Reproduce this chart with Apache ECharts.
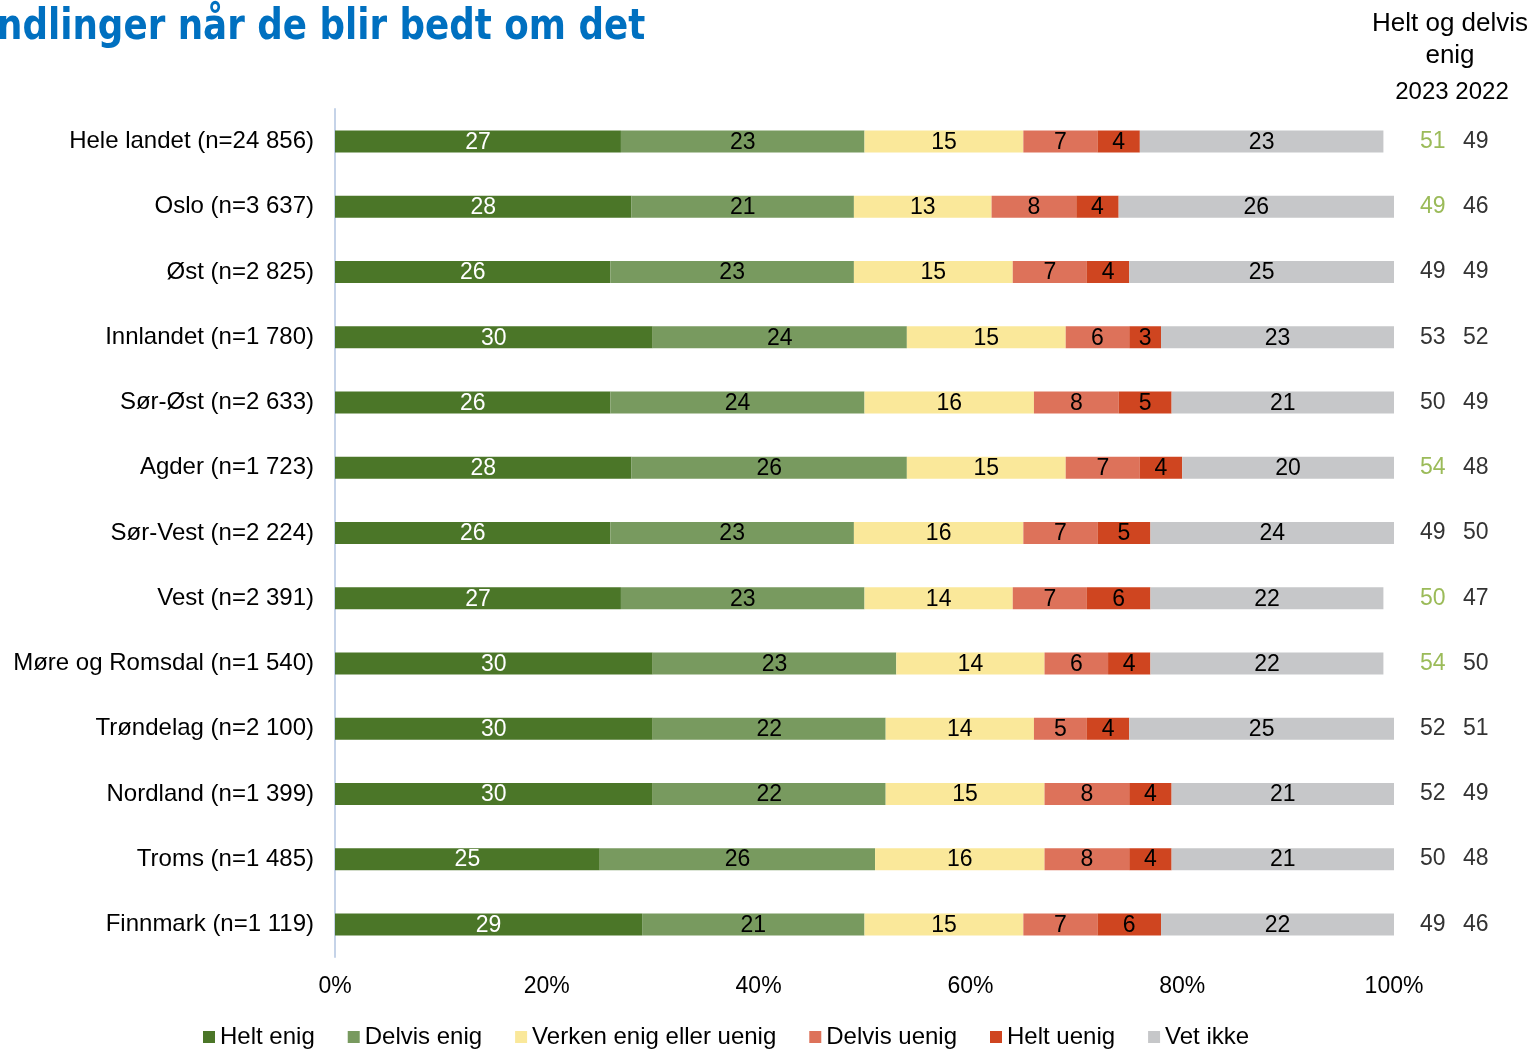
<!DOCTYPE html>
<html>
<head>
<meta charset="utf-8">
<script src="https://cdn.jsdelivr.net/npm/echarts@6/dist/echarts.min.js"></script>
<style>
  html, body { margin: 0; padding: 0; background: #fff; }
  #chart { width: 1535px; height: 1049px; }
</style>
</head>
<body>
<div id="chart"></div>
<script>
// categories, top to bottom
var regions = ['Hele landet (n=24 856)', 'Oslo (n=3 637)', 'Øst (n=2 825)', 'Innlandet (n=1 780)',
  'Sør-Øst (n=2 633)', 'Agder (n=1 723)', 'Sør-Vest (n=2 224)', 'Vest (n=2 391)',
  'Møre og Romsdal (n=1 540)', 'Trøndelag (n=2 100)', 'Nordland (n=1 399)', 'Troms (n=1 485)',
  'Finnmark (n=1 119)'];

var heltEnig    = [27, 28, 26, 30, 26, 28, 26, 27, 30, 30, 30, 25, 29];
var delvisEnig  = [23, 21, 23, 24, 24, 26, 23, 23, 23, 22, 22, 26, 21];
var verken      = [15, 13, 15, 15, 16, 15, 16, 14, 14, 14, 15, 16, 15];
var delvisUenig = [7, 8, 7, 6, 8, 7, 7, 7, 6, 5, 8, 8, 7];
var heltUenig   = [4, 4, 4, 3, 5, 4, 5, 6, 4, 4, 4, 4, 6];
var vetIkke     = [23, 26, 25, 23, 21, 20, 24, 22, 22, 25, 21, 21, 22];

// Helt og delvis enig, 2023 and 2022
var enig2023 = [51, 49, 49, 53, 50, 54, 49, 50, 54, 52, 52, 50, 49];
var enig2022 = [49, 46, 49, 52, 49, 48, 50, 47, 50, 51, 49, 48, 46];
var higher2023 = [true, true, false, false, false, true, false, true, true, false, false, false, false];

var FONT = 'Liberation Sans, Arial, sans-serif';

function barSeries(name, data, color, labelColor) {
  return {
    name: name,
    type: 'bar',
    stack: 'total',
    barWidth: 22,
    data: data,
    itemStyle: { color: color },
    label: {
      show: true,
      position: 'inside',
      color: labelColor,
      fontFamily: FONT,
      fontSize: 23,
      offset: [0, 1]
    }
  };
}

var myChart = echarts.init(document.getElementById('chart'));

var option = {
  animation: false,
  backgroundColor: '#fff',
  textStyle: { fontFamily: FONT },

  graphic: [
    {
      type: 'text', left: -3, top: 7, scaleX: 0.85,
      style: { text: 'ndlinger når de blir bedt om det', fill: '#0070C0',
        font: 'bold 42px "DejaVu Sans", sans-serif' }
    },
    {
      type: 'text', x: 1450, y: 24,
      style: { text: 'Helt og delvis', fill: '#000', font: '26px ' + FONT,
        textAlign: 'center', textVerticalAlign: 'middle' }
    },
    {
      type: 'text', x: 1450, y: 56,
      style: { text: 'enig', fill: '#000', font: '26px ' + FONT,
        textAlign: 'center', textVerticalAlign: 'middle' }
    },
    {
      type: 'text', x: 1452, y: 92,
      style: { text: '2023 2022', fill: '#000', font: '24px ' + FONT,
        textAlign: 'center', textVerticalAlign: 'middle' }
    }
  ],

  // Legend at bottom
  legend: {
    left: 198,
    top: 1020,
    itemWidth: 12,
    itemHeight: 12,
    itemGap: 33,
    icon: 'rect',
    textStyle: { fontFamily: FONT, fontSize: 24, color: '#000' },
    data: ['Helt enig', 'Delvis enig', 'Verken enig eller uenig', 'Delvis uenig', 'Helt uenig', 'Vet ikke']
  },

  grid: { left: 335, right: 141, top: 109, bottom: 92 },

  xAxis: {
    type: 'value',
    min: 0,
    max: 100,
    interval: 20,
    axisLine: { show: false },
    axisTick: { show: false },
    splitLine: { show: false },
    axisLabel: { formatter: '{value}%', fontSize: 23, color: '#000', margin: 18 }
  },

  yAxis: [
    {
      type: 'category',
      inverse: true,
      data: regions,
      axisLine: { show: true, lineStyle: { color: '#C5D3E8', width: 2 } },
      axisTick: { show: false },
      axisLabel: { fontSize: 24, color: '#000', margin: 21, padding: [4, 0, 0, 0] }
    },
    {
      type: 'category',
      inverse: true,
      position: 'right',
      data: regions,
      axisLine: { show: false },
      axisTick: { show: false },
      axisLabel: {
        margin: 26,
        align: 'left',
        formatter: function (v, i) {
          var key = higher2023[i] ? 'g' : 'd';
          return '{' + key + '|' + enig2023[i] + '}{b|' + enig2022[i] + '}';
        },
        rich: {
          g: { color: '#9BBB59', fontSize: 23, width: 43, fontFamily: FONT },
          d: { color: '#333', fontSize: 23, width: 43, fontFamily: FONT },
          b: { color: '#333', fontSize: 23, fontFamily: FONT }
        }
      }
    }
  ],

  series: [
    barSeries('Helt enig', heltEnig, '#4B7628', '#fff'),
    barSeries('Delvis enig', delvisEnig, '#789A5F', '#000'),
    barSeries('Verken enig eller uenig', verken, '#FAE89A', '#000'),
    barSeries('Delvis uenig', delvisUenig, '#DD725A', '#000'),
    barSeries('Helt uenig', heltUenig, '#CF4520', '#000'),
    barSeries('Vet ikke', vetIkke, '#C6C7C9', '#000')
  ]
};

myChart.setOption(option);
</script>
</body>
</html>
